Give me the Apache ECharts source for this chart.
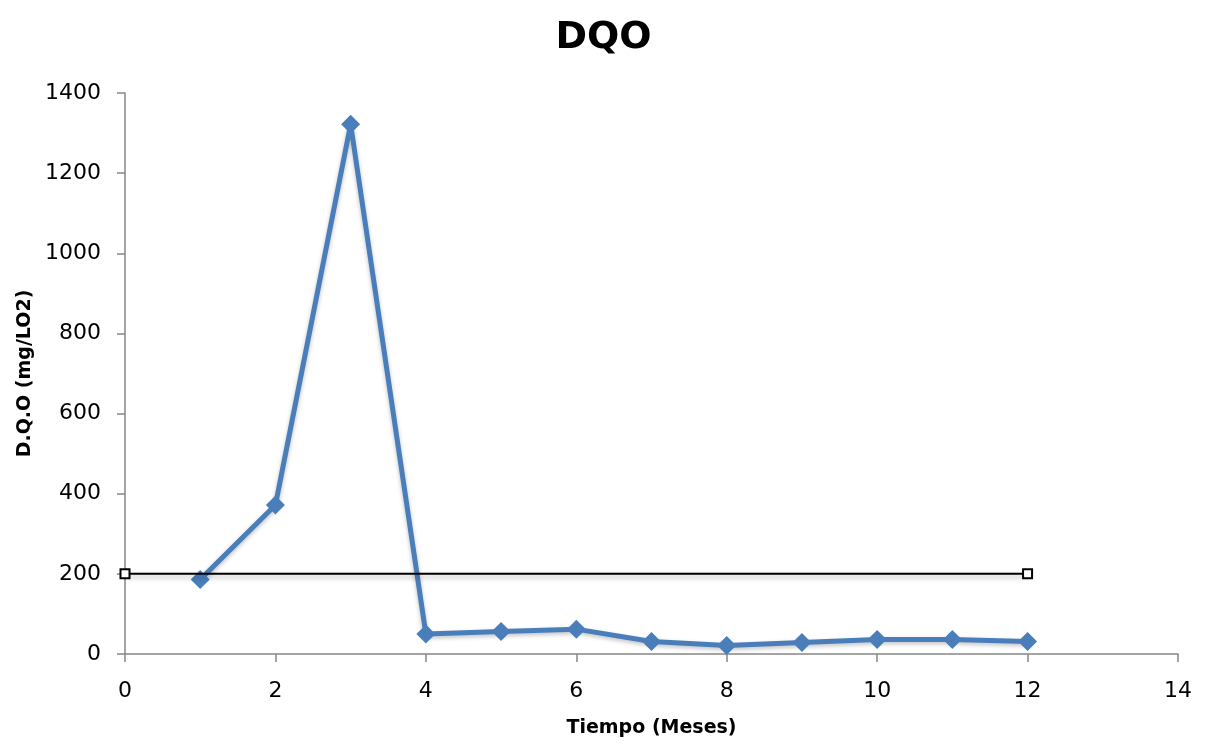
<!DOCTYPE html>
<html>
<head>
<meta charset="utf-8">
<script src="https://cdn.jsdelivr.net/npm/echarts@6/dist/echarts.min.js"></script>
<style>
  html, body { margin: 0; padding: 0; background: #fff; }
  #chart { width: 1207px; height: 745px; }
</style>
</head>
<body>
<div id="chart"></div>
<script>
// Monthly COD measurements (mg/L O2)
const months = [1, 2, 3, 4, 5, 6, 7, 8, 9, 10, 11, 12];
const dqoValues = [186, 372, 1322, 50, 56, 62, 31, 21, 29, 36, 36, 31];
// Reference limit line
const limitMonths = [0, 12];
const limitValues = [200, 200];

const FONT = 'DejaVu Sans';
const axisGray = '#868686';

const chart = echarts.init(document.getElementById('chart'), null, { renderer: 'canvas' });

chart.setOption({
  animation: false,
  backgroundColor: '#ffffff',
  title: {
    text: 'DQO',
    left: 'center',
    top: 14,
    textStyle: { fontFamily: FONT, fontWeight: 'bold', fontSize: 38, color: '#000' }
  },
  grid: { left: 125, right: 29, top: 93, bottom: 91, containLabel: false },
  xAxis: {
    type: 'value',
    min: 0, max: 14, interval: 2,
    name: 'Tiempo (Meses)',
    nameLocation: 'middle',
    nameGap: 65,
    nameTextStyle: { fontFamily: FONT, fontWeight: 'bold', fontSize: 19, color: '#000' },
    axisLine: { show: true, onZero: false, lineStyle: { color: axisGray, width: 1.5 } },
    axisTick: { show: true, length: 8, lineStyle: { color: axisGray, width: 1.5 } },
    axisLabel: { fontFamily: FONT, fontSize: 22, color: '#000', margin: 26, formatter: v => String(v) },
    splitLine: { show: false }
  },
  yAxis: {
    type: 'value',
    min: 0, max: 1400, interval: 200,
    name: 'D.Q.O (mg/LO2)',
    nameLocation: 'middle',
    nameGap: 84,
    nameTextStyle: { fontFamily: FONT, fontWeight: 'bold', fontSize: 19, color: '#000' },
    axisLine: { show: true, lineStyle: { color: axisGray, width: 1.5 } },
    axisTick: { show: true, length: 8, lineStyle: { color: axisGray, width: 1.5 } },
    axisLabel: { fontFamily: FONT, fontSize: 22, color: '#000', margin: 24, formatter: v => String(v) },
    splitLine: { show: false }
  },
  series: [
    {
      name: 'DQO',
      type: 'line',
      data: months.map((m, i) => [m, dqoValues[i]]),
      symbol: 'diamond',
      symbolSize: 19,
      showAllSymbol: true,
      lineStyle: {
        color: '#4A7EBB', width: 5,
        shadowColor: 'rgba(0,0,0,0.25)', shadowBlur: 4, shadowOffsetY: 2
      },
      itemStyle: { color: '#4A7EBB', borderWidth: 0 },
      z: 3
    },
    {
      name: 'Límite',
      type: 'line',
      data: limitMonths.map((m, i) => [m, limitValues[i]]),
      symbol: 'rect',
      symbolSize: 9,
      showAllSymbol: true,
      lineStyle: {
        color: '#000', width: 2,
        shadowColor: 'rgba(0,0,0,0.3)', shadowBlur: 5, shadowOffsetY: 3
      },
      itemStyle: { color: '#ffffff', borderColor: '#000', borderWidth: 2 },
      z: 4
    }
  ]
});
</script>
</body>
</html>
